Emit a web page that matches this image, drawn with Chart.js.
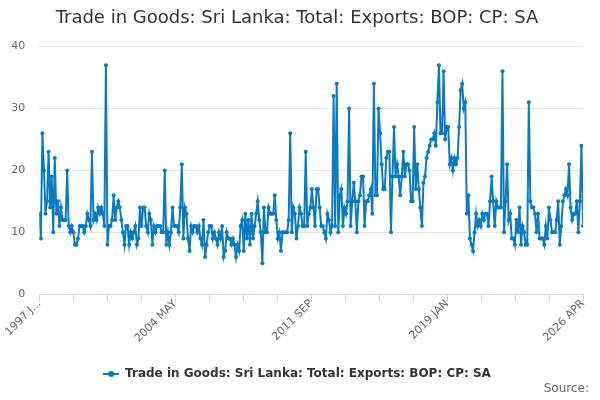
<!DOCTYPE html>
<html>
<head>
<meta charset="utf-8">
<script src="https://cdn.jsdelivr.net/npm/chart.js@4.4.1/dist/chart.umd.min.js"></script>
<style>
  html, body { margin: 0; padding: 0; background: #fff; }
</style>
</head>
<body>
<canvas id="chart" width="600" height="400"></canvas>
<script>
// series + axis data
const seriesName = 'Trade in Goods: Sri Lanka: Total: Exports: BOP: CP: SA';
const tickLabels = ['1997 J...', '2004 MAY', '2011 SEP', '2019 JAN', '2026 APR'];
const yTicks = [0, 10, 20, 30, 40];
const sourceText = 'Source:';
// monthly values, 1997 JAN .. 2026 APR
const exportsValues = [
  13, 9, 26, 20, 13, 15, 23, 14, 19, 10,
  22, 13, 15, 11, 14, 12, 12, 12, 20, 11,
  10, 11, 10, 8, 8, 9, 11, 11, 11, 10,
  11, 13, 12, 11, 23, 12, 13, 12, 14, 13,
  14, 13, 11, 37, 8, 11, 11, 12, 16, 12,
  14, 15, 14, 12, 10, 8, 11, 11, 8, 10,
  9, 10, 11, 8, 9, 14, 11, 14, 14, 11,
  10, 13, 12, 8, 11, 10, 11, 11, 11, 10,
  10, 20, 8, 10, 8, 10, 14, 11, 11, 11,
  10, 14, 21, 9, 14, 13, 9, 7, 11, 10,
  11, 11, 10, 11, 9, 8, 12, 6, 8, 10,
  11, 11, 9, 10, 9, 8, 10, 9, 11, 6,
  7, 10, 9, 9, 8, 9, 8, 6, 8, 7,
  11, 12, 7, 13, 9, 12, 8, 13, 9, 11,
  13, 15, 12, 10, 5, 14, 10, 10, 14, 13,
  13, 13, 16, 12, 9, 10, 7, 10, 10, 10,
  10, 12, 26, 10, 14, 13, 9, 11, 14, 13,
  11, 11, 23, 11, 13, 14, 17, 14, 11, 17,
  17, 14, 11, 11, 10, 9, 13, 12, 10, 11,
  32, 11, 34, 10, 16, 17, 11, 14, 13, 15,
  30, 11, 15, 18, 15, 10, 15, 16, 19, 19,
  11, 15, 15, 16, 17, 13, 34, 16, 16, 30,
  26, 21, 17, 17, 22, 23, 23, 10, 19, 27,
  19, 21, 19, 16, 19, 23, 19, 21, 21, 20,
  15, 15, 27, 17, 21, 17, 14, 11, 18, 19,
  22, 23, 24, 25, 25, 26, 24, 31, 37, 26,
  26, 36, 25, 27, 27, 21, 22, 20, 22, 21,
  22, 27, 33, 34, 30, 31, 13, 16, 9, 8,
  7, 10, 13, 11, 12, 11, 13, 12, 13, 13,
  11, 15, 19, 15, 11, 15, 14, 14, 14, 36,
  10, 15, 21, 12, 13, 9, 9, 8, 12, 10,
  14, 8, 11, 10, 8, 8, 31, 15, 14, 14,
  13, 10, 13, 9, 9, 9, 8, 11, 9, 14,
  12, 10, 10, 10, 12, 15, 8, 11, 15, 16,
  17, 16, 21, 14, 12, 13, 13, 15, 10, 15,
  24, 11
];

const lineColor = '#0a7bc1';
const lastIndex = exportsValues.length - 1;
const tickCount = 16; // x tick marks, every 4th one labelled

Chart.defaults.font.family = '"DejaVu Sans", sans-serif';
Chart.defaults.color = '#666';

// legend marker: short line with a dot
const marker = document.createElement('canvas');
marker.width = 16;
marker.height = 8;
const mctx = marker.getContext('2d');
mctx.strokeStyle = lineColor;
mctx.lineWidth = 2;
mctx.beginPath();
mctx.moveTo(0, 4);
mctx.lineTo(16, 4);
mctx.stroke();
mctx.fillStyle = lineColor;
mctx.beginPath();
mctx.arc(8, 4, 3, 0, Math.PI * 2);
mctx.fill();

// "Source:" credit in the bottom right corner
const sourceCredit = {
  id: 'sourceCredit',
  afterDraw(chart) {
    const c = chart.ctx;
    c.save();
    c.font = '12px "DejaVu Sans", sans-serif';
    c.fillStyle = '#666';
    c.textAlign = 'right';
    c.textBaseline = 'middle';
    c.fillText(sourceText, 589, 389);
    c.restore();
  }
};

const ctx = document.getElementById('chart').getContext('2d');
new Chart(ctx, {
  type: 'line',
  data: {
    datasets: [{
      label: seriesName,
      data: exportsValues.map((v, i) => ({ x: i, y: v })),
      borderColor: lineColor,
      backgroundColor: lineColor,
      borderWidth: 2,
      pointRadius: 2,
      pointBorderWidth: 0,
      pointBackgroundColor: lineColor,
      tension: 0
    }]
  },
  plugins: [sourceCredit],
  options: {
    responsive: false,
    animation: false,
    layout: { padding: { left: 11, right: 17, top: 0, bottom: 10 } },
    scales: {
      x: {
        type: 'linear',
        min: 0,
        max: lastIndex,
        afterBuildTicks: scale => {
          const ticks = [];
          for (let k = 0; k <= tickCount; k++) ticks.push({ value: lastIndex * k / tickCount });
          scale.ticks = ticks;
        },
        afterFit: scale => {
          scale.paddingLeft = 0;
          scale.height += 20;
        },
        grid: { drawOnChartArea: false, drawTicks: true, tickLength: 8, color: '#ccd6eb' },
        border: { display: true, color: '#ccd6eb' },
        ticks: {
          autoSkip: false,
          minRotation: 45,
          maxRotation: 45,
          padding: -5,
          font: { size: 11 },
          color: '#666',
          callback: (value, index) => index % 4 === 0 ? tickLabels[index / 4] : ''
        }
      },
      y: {
        min: 0,
        max: 40,
        afterBuildTicks: scale => {
          scale.ticks = yTicks.map(v => ({ value: v }));
        },
        afterFit: scale => {
          scale.width = 28.3;
        },
        grid: { color: '#e6e6e6', drawTicks: false },
        border: { display: false },
        ticks: { padding: 14, font: { size: 11 }, color: '#666' }
      }
    },
    plugins: {
      title: {
        display: true,
        text: seriesName,
        color: '#333',
        font: { size: 18, weight: 'normal' },
        padding: { top: 8, bottom: 17 }
      },
      legend: {
        position: 'bottom',
        labels: {
          usePointStyle: true,
          pointStyleWidth: 16,
          color: '#333',
          font: { size: 12, weight: 'bold' },
          padding: 8,
          generateLabels: chart => {
            const items = Chart.defaults.plugins.legend.labels.generateLabels(chart);
            items.forEach(it => { it.pointStyle = marker; });
            return items;
          }
        }
      },
      tooltip: { enabled: false }
    }
  }
});
</script>
</body>
</html>
